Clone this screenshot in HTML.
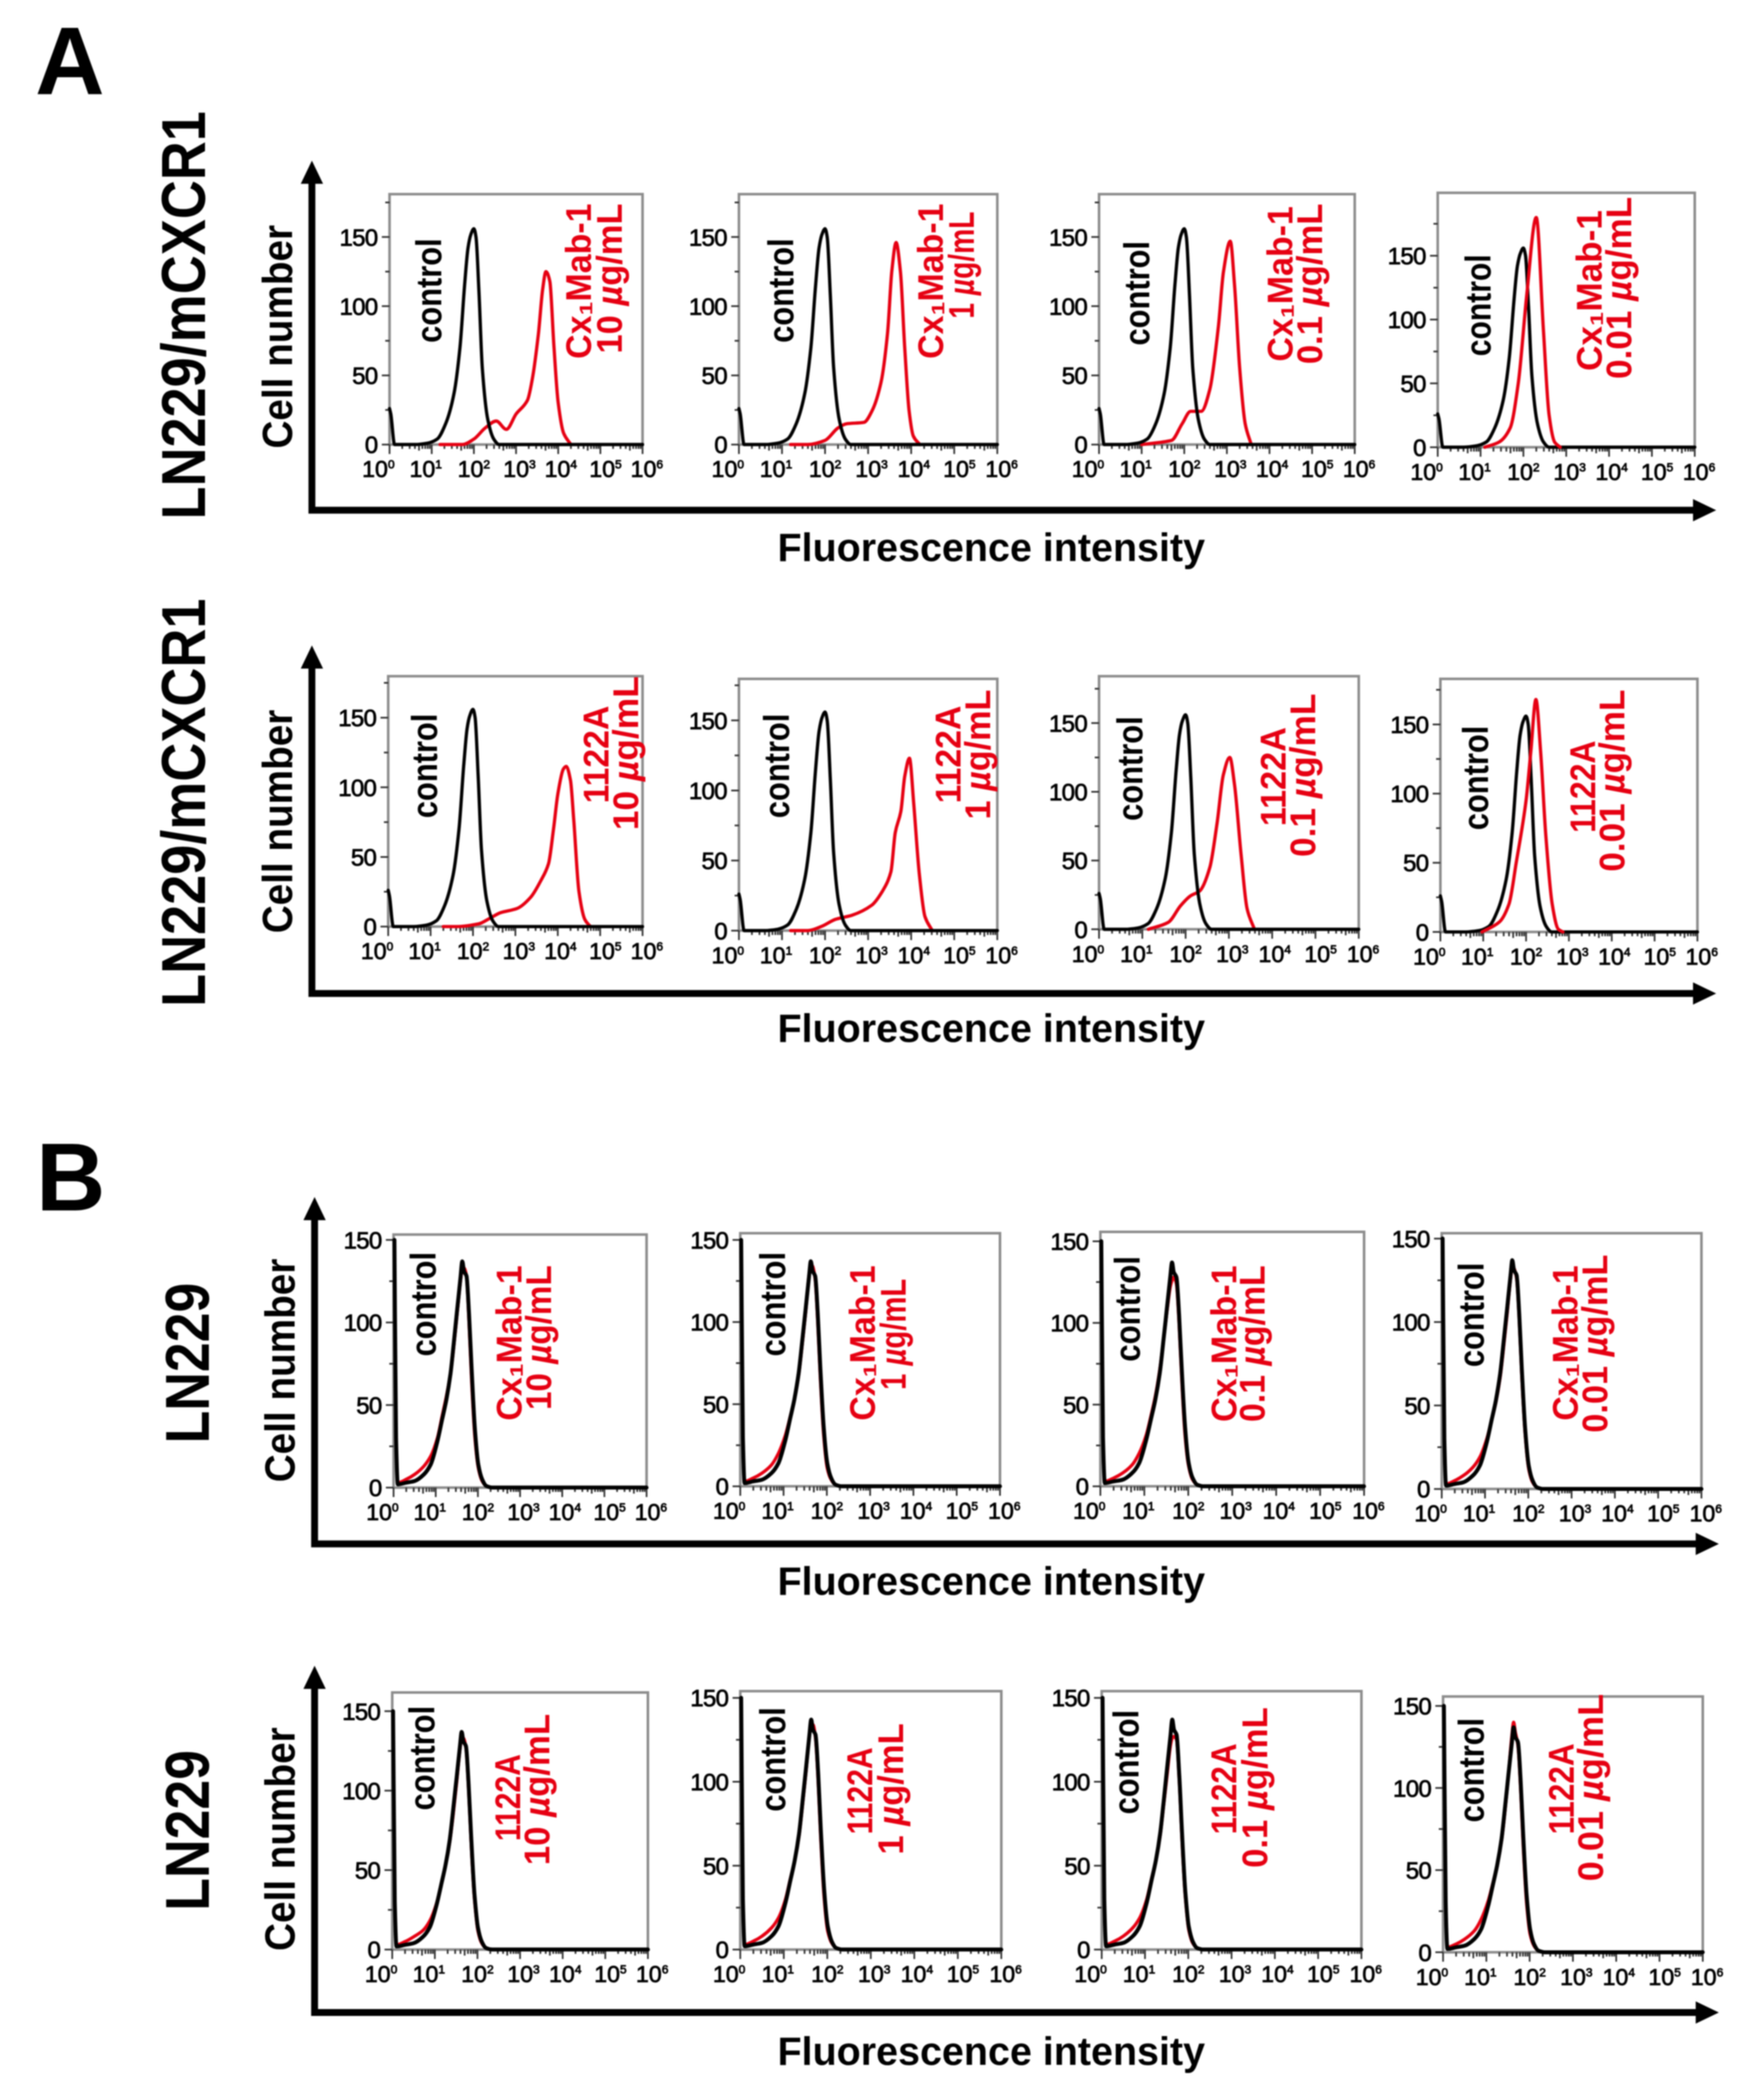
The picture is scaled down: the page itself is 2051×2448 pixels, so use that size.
<!DOCTYPE html>
<html>
<head>
<meta charset="utf-8">
<title>Flow cytometry histograms</title>
<style>
html,body{margin:0;padding:0;background:#fff;}
svg{display:block;font-family:"Liberation Sans",Arial,sans-serif;}
#root{filter:blur(0.8px);}
</style>
</head>
<body>
<svg id="figure" width="2051" height="2448" viewBox="0 0 2051 2448" xmlns="http://www.w3.org/2000/svg">
<rect width="2051" height="2448" fill="#fff"/>
<g id="root"></g>
</svg>
<script>
// ---- tick labels ----
const decadeTicks = [0,1,2,3,4,5,6];
const countTicks = [0,50,100,150];
const minorCountTicks = [25,75,125,175];

// ---- control histograms ----
const controlADecades = [0,0.03,0.12,0.6,0.9,1.13,1.33,1.53,1.67,1.78,1.86,1.93,2.0,2.05,2.12,2.2,2.33,2.47,2.6,6];
const controlACounts  = [26,22,0,0,1,4,15,37,70,115,142,152,156,150,110,55,18,4,0,0];
const controlBDecades = [0.02,0.06,0.1,0.3,0.5,0.72,0.88,1.04,1.15,1.25,1.35,1.43,1.51,1.59,1.63,1.67,1.73,1.79,1.85,1.93,2.01,2.1,2.2,2.35,6];
const controlBCounts  = [150,30,2,3,4,8,14,28,41,53,69,88,108,128,137,131,128,105,72,35,14,5,1,0,0];

// ---- LN229/mCXCR1 red histograms ----
const cxA10Decades = [1.2,1.73,2.0,2.27,2.53,2.77,3.0,3.27,3.4,3.53,3.63,3.71,3.8,3.9,4.0,4.13,4.3];
const cxA10Counts  = [0,0,4,12,17,11,22,32,50,80,112,125,118,70,30,8,0];
const cxA1Decades  = [1.2,1.6,2.0,2.3,2.5,2.9,3.1,3.3,3.45,3.55,3.65,3.75,3.85,3.95,4.05,4.2];
const cxA1Counts   = [0,0,3,12,15,16,25,45,80,125,146,125,70,25,6,0];
const cxA01Decades = [1.0,1.7,1.95,2.15,2.4,2.6,2.8,2.92,3.08,3.18,3.3,3.43,3.57];
const cxA01Counts  = [0,3,15,24,24,40,85,125,147,115,55,15,0];
const cxA001Decades= [1.1,1.43,1.69,1.88,2.08,2.3,2.47,2.6,2.73,2.86];
const cxA001Counts = [0,4,15,50,120,180,90,25,4,0];
const abA10Decades = [1.3,1.63,2.14,2.4,2.65,3.04,3.36,3.6,3.78,3.9,4.0,4.13,4.2,4.3,4.38,4.5,4.64,4.77];
const abA10Counts  = [0,0,2,6,10,13,21,33,45,70,95,113,115,105,75,25,5,0];
const abA1Decades  = [1.2,1.6,1.92,2.24,2.63,3.08,3.33,3.53,3.63,3.76,3.85,3.96,4.06,4.19,4.32,4.49];
const abA1Counts   = [0,0,3,8,11,18,28,42,70,85,110,123,90,40,10,0];
const abA01Decades = [1.14,1.6,1.88,2.1,2.33,2.56,2.73,2.87,3.02,3.13,3.28,3.42,3.59];
const abA01Counts  = [0,5,17,24,28,45,78,112,125,105,55,15,0];
const abA001Decades= [0.97,1.37,1.6,1.77,2.0,2.11,2.23,2.34,2.46,2.61,2.75,2.86];
const abA001Counts = [0,7,20,50,95,130,168,130,70,20,2,0];

// ---- LN229 red histograms (same decade grid as controlBDecades) ----
const cxB10Counts  = [148,28,3,5,8,13,19,30,43,55,69,86,106,126,132,133,128,100,65,30,12,4,1,0,0];
const cxB1Counts   = [148,28,3,5,8,13,20,31,42,53,68,86,106,129,135,134,126,100,66,30,11,4,1,0,0];
const cxB01Counts  = [148,28,3,5,8,13,20,31,43,55,71,88,106,122,126,128,124,100,66,30,12,4,1,0,0];
const cxB001Counts = [148,28,3,5,8,13,19,30,41,52,67,85,105,126,133,132,126,102,68,32,12,4,1,0,0];
const abB10Counts  = [148,28,3,5,8,12,18,29,41,53,68,85,105,126,133,133,127,102,68,32,12,4,1,0,0];
const abB1Counts   = [148,28,3,5,8,13,19,30,42,53,68,86,106,128,134,134,126,100,66,30,11,4,1,0,0];
const abB01Counts  = [148,28,3,5,8,13,19,30,42,53,68,86,104,122,126,127,125,102,68,32,12,4,1,0,0];
const abB001Counts = [148,28,3,5,8,13,20,31,42,53,68,86,108,132,140,134,126,100,66,30,11,4,1,0,0];

// ---- layout (in display units, multiplied by k) ----
const k = 2051/1314;
const labelNudge = -1.5;
const xLabelShift = [-13,-7,0,4,3,6,5];
const panelLayouts = [
 {id:'a1-1',l:291,r:480,t:145,b:332,y150:177,cx:331,cy:[178,256],l1:[443,152,268],l2:[466,152,264],ab:'Cx₁Mab-1',conc:'10',dec:cxA10Decades,red:cxA10Counts,g:'A'},
 {id:'a1-2',l:552,r:745,t:145,b:332,y150:177,cx:594,cy:[178,256],l1:[706,152,268],l2:[729,158,238],ab:'Cx₁Mab-1',conc:'1',dec:cxA1Decades,red:cxA1Counts,g:'A'},
 {id:'a1-3',l:821,r:1012,t:145,b:332,y150:177,cx:860,cy:[180,258],l1:[967,154,270],l2:[989,152,272],ab:'Cx₁Mab-1',conc:'0.1',dec:cxA01Decades,red:cxA01Counts,g:'A'},
 {id:'a1-4',l:1074,r:1266,t:144,b:334,y150:191,cx:1115,cy:[190,266],l1:[1198,157,277],l2:[1220,147,283],ab:'Cx₁Mab-1',conc:'0.01',dec:cxA001Decades,red:cxA001Counts,g:'A',top:true},
 {id:'a2-1',l:290,r:480,t:505,b:692,y150:536,cx:328,cy:[533,611],l1:[456,527,600],l2:[478,505,620],ab:'1122A',conc:'10',dec:abA10Decades,red:abA10Counts,g:'A'},
 {id:'a2-2',l:552,r:745,t:507,b:695,y150:538,cx:591,cy:[533,611],l1:[719,527,600],l2:[741,515,612],ab:'1122A',conc:'1',dec:abA1Decades,red:abA1Counts,g:'A'},
 {id:'a2-3',l:821,r:1015,t:505,b:694,y150:540,cx:855,cy:[535,613],l1:[962,543,617],l2:[984,518,640],ab:'1122A',conc:'0.1',dec:abA01Decades,red:abA01Counts,g:'A'},
 {id:'a2-4',l:1076,r:1268,t:507,b:696,y150:541,cx:1113,cy:[542,620],l1:[1193,553,622],l2:[1215,515,651],ab:'1122A',conc:'0.01',dec:abA001Decades,red:abA001Counts,g:'A',top:true},
 {id:'b1-1',l:294,r:483,t:922,b:1111,y150:926,cx:327,cy:[935,1013],l1:[391,945,1061],l2:[413,945,1053],ab:'Cx₁Mab-1',conc:'10',dec:controlBDecades,red:cxB10Counts,g:'B'},
 {id:'b1-2',l:553,r:747,t:921,b:1110,y150:926,cx:588,cy:[935,1013],l1:[655,945,1061],l2:[678,955,1038],ab:'Cx₁Mab-1',conc:'1',dec:controlBDecades,red:cxB1Counts,g:'B'},
 {id:'b1-3',l:822,r:1019,t:920,b:1110,y150:927,cx:853,cy:[938,1017],l1:[925,945,1062],l2:[946,945,1062],ab:'Cx₁Mab-1',conc:'0.1',dec:controlBDecades,red:cxB01Counts,g:'B'},
 {id:'b1-4',l:1077,r:1271,t:921,b:1112,y150:925,cx:1110,cy:[943,1021],l1:[1180,945,1061],l2:[1202,937,1070],ab:'Cx₁Mab-1',conc:'0.01',dec:controlBDecades,red:cxB001Counts,g:'B'},
 {id:'b2-1',l:293,r:484,t:1264,b:1456,y150:1278,cx:326,cy:[1274,1352],l1:[390,1310,1375],l2:[412,1280,1393],ab:'1122A',conc:'10',dec:controlBDecades,red:abB10Counts,g:'B'},
 {id:'b2-2',l:553,r:748,t:1263,b:1456,y150:1268,cx:588,cy:[1275,1353],l1:[653,1305,1370],l2:[676,1287,1385],ab:'1122A',conc:'1',dec:controlBDecades,red:abB1Counts,g:'B'},
 {id:'b2-3',l:823,r:1017,t:1263,b:1456,y150:1268,cx:852,cy:[1277,1355],l1:[925,1302,1370],l2:[948,1275,1395],ab:'1122A',conc:'0.1',dec:controlBDecades,red:abB01Counts,g:'B'},
 {id:'b2-4',l:1078,r:1272,t:1267,b:1458,y150:1274,cx:1110,cy:[1283,1361],l1:[1177,1302,1370],l2:[1199,1265,1405],ab:'1122A',conc:'0.01',dec:controlBDecades,red:abB001Counts,g:'B'}
];
const rowLayouts = [
 {id:'a1',ax:233,tip:120,corner:381,xtip:1282,titleY:419,cell:[194,218,168,335],side:[153,83,388],sideText:'LN229/mCXCR1'},
 {id:'a2',ax:233,tip:482,corner:742,xtip:1282,titleY:778,cell:[194,218,530,697],side:[153,447,752],sideText:'LN229/mCXCR1'},
 {id:'b1',ax:235,tip:894,corner:1153,xtip:1284,titleY:1191,cell:[196,220,940,1107],side:[156,958,1078],sideText:'LN229'},
 {id:'b2',ax:235,tip:1244,corner:1503,xtip:1284,titleY:1542,cell:[196,220,1290,1457],side:[156,1307,1427],sideText:'LN229'}
];

const NS = 'http://www.w3.org/2000/svg';
const root = document.getElementById('root');
function make(tag, parent, attrs){
  const el = document.createElementNS(NS, tag);
  for (const key in attrs) el.setAttribute(key, attrs[key]);
  parent.appendChild(el);
  return el;
}
function rotatedText(parent, baseX, yTop, yBottom, size, fill, parts){
  const len = (yBottom - yTop)*k;
  const x = baseX*k, y = yBottom*k;
  const t = make('text', parent, {transform:'translate('+x+','+y+') rotate(-90)', 'font-size':size, 'font-weight':'bold', fill:fill, textLength:len, lengthAdjust:'spacingAndGlyphs'});
  parts.forEach(function(p){
    const s = document.createElementNS(NS,'tspan');
    s.textContent = p.text;
    if (p.italic) s.setAttribute('font-style','italic');
    t.appendChild(s);
  });
  return t;
}

// monotone cubic path through screen points (no overshoot between samples)
function monotonePath(px, py){
  const n = px.length, m = new Array(n).fill(0), s = [];
  for (let i=0;i<n-1;i++) s[i] = (py[i+1]-py[i])/Math.max(px[i+1]-px[i],0.001);
  for (let i=1;i<n-1;i++) m[i] = s[i-1]*s[i] <= 0 ? 0 : 2*s[i-1]*s[i]/(s[i-1]+s[i]);
  m[0] = s[0]; m[n-1] = s[n-2];
  let d = 'M'+px[0].toFixed(1)+' '+py[0].toFixed(1);
  for (let i=0;i<n-1;i++){
    const h = (px[i+1]-px[i])/3;
    d += 'C'+(px[i]+h).toFixed(1)+' '+(py[i]+m[i]*h).toFixed(1)+' '+(px[i+1]-h).toFixed(1)+' '+(py[i+1]-m[i+1]*h).toFixed(1)+' '+px[i+1].toFixed(1)+' '+py[i+1].toFixed(1);
  }
  return d;
}

// panel letters
const letterA = make('text', root, {x:41, y:110, 'font-size':112, 'font-weight':'bold', fill:'#000'});


letterA.textContent = 'A';
const letterB = make('text', root, {x:42, y:1411, 'font-size':112, 'font-weight':'bold', fill:'#000'});


letterB.textContent = 'B';

// row scaffolding: big arrows and titles
rowLayouts.forEach(function(row){
  const g = make('g', root, {});
  
  
  const ax=row.ax*k, tip=row.tip*k, cor=row.corner*k, xt=row.xtip*k;
  const yArrow = make('path', g, {d:'M'+ax+' '+(tip+20)+'V'+cor+'H'+(xt-20), fill:'none', stroke:'#000', 'stroke-width':8});
  
  
  const yHead = make('path', g, {d:'M'+ax+' '+tip+'L'+(ax+13)+' '+(tip+27)+'H'+(ax-13)+'Z', fill:'#000'});
  
  
  const xHead = make('path', g, {d:'M'+xt+' '+cor+'L'+(xt-27)+' '+(cor-13)+'V'+(cor+13)+'Z', fill:'#000'});
  
  
  const title = make('text', g, {x:740.5*k, y:row.titleY*k, 'font-size':46, 'font-weight':'bold', fill:'#000', 'text-anchor':'middle'});
  
  
  title.textContent = 'Fluorescence intensity';
  const cell = rotatedText(g, row.cell[1], row.cell[2], row.cell[3], 49, '#000', [{text:'Cell number'}]);
  
  
  const side = rotatedText(g, row.side[0], row.side[1], row.side[2], 72, '#000', [{text:row.sideText}]);
  
  
});

function drawCurve(parent, decades, counts, xScale, yScale, color, width, name){
  const px = decades.map(xScale);
  const py = counts.map(yScale);
  const line = make('path', parent, {d:monotonePath(px,py), fill:'none', stroke:color, 'stroke-width':width, 'stroke-linejoin':'round', 'stroke-linecap':'round'});
  
  
}

panelLayouts.forEach(function(p){
  const left=p.l*k, right=p.r*k, top=p.t*k, base=p.b*k, y150=p.y150*k;
  const xScale = function(d){ return left + d*(right-left)/6; };
  const yScale = function(c){ return base - c*(base-y150)/150; };
  const g = make('g', root, {});
  
  

  const frame = make('rect', g, {x:left, y:top, width:right-left, height:base-top, fill:'#fff', stroke:'#8c8c8c', 'stroke-width':3});
  
  

  // x axis ticks
  let dx = '';
  decadeTicks.forEach(function(d){
    dx += 'M'+xScale(d)+' '+base+'v11';
    if (d < 6) [2,3,4,5,6,7,8,9].forEach(function(m){
      dx += 'M'+xScale(d+Math.log10(m))+' '+base+'v'+(m===5?7:5);
    });
  });
  const xTicks = make('path', g, {d:dx, stroke:'#333', 'stroke-width':2, fill:'none'});
  
  

  // y axis ticks
  let dy = '';
  countTicks.forEach(function(c){ dy += 'M'+left+' '+yScale(c)+'h-9'; });
  minorCountTicks.forEach(function(c){ const y=yScale(c); if (y>top) dy += 'M'+left+' '+y+'h-5'; });
  const yTicks = make('path', g, {d:dy, stroke:'#333', 'stroke-width':2, fill:'none'});
  
  

  // x tick labels
  decadeTicks.forEach(function(d,i){
    const t = make('text', g, {x:xScale(d)+xLabelShift[i], y:base+38, 'font-size':27, fill:'#000', stroke:'#000', 'stroke-width':0.8, 'text-anchor':'middle'});
    
    
    t.appendChild(document.createTextNode('10'));
    const sup = document.createElementNS(NS,'tspan');
    sup.setAttribute('font-size','14');
    sup.setAttribute('dy','-10');
    sup.textContent = String(d);
    t.appendChild(sup);
  });

  // y tick labels
  countTicks.forEach(function(c){
    const t = make('text', g, {x:left-14, y:yScale(c)+10, 'font-size':28, fill:'#000', stroke:'#000', 'stroke-width':0.8, 'text-anchor':'end', 'letter-spacing':-0.8});
    
    
    t.textContent = String(c);
  });

  // series
  const ctrlDec = p.g==='A' ? controlADecades : controlBDecades;
  const ctrlCnt = p.g==='A' ? controlACounts : controlBCounts;
  const ctrlW = p.g==='A' ? 3.8 : 4.6;
  if (p.top){
    drawCurve(g, ctrlDec, ctrlCnt, xScale, yScale, '#000', ctrlW, 'control-histogram');
    drawCurve(g, p.dec, p.red, xScale, yScale, '#e60012', 3.8, 'antibody-histogram');
  } else {
    drawCurve(g, p.dec, p.red, xScale, yScale, '#e60012', 3.8, 'antibody-histogram');
    drawCurve(g, ctrlDec, ctrlCnt, xScale, yScale, '#000', ctrlW, 'control-histogram');
  }

  // annotations
  const ctl = rotatedText(g, p.cx+labelNudge, p.cy[0], p.cy[1], 42, '#000', [{text:'control'}]);
  
  
  const ab = rotatedText(g, p.l1[0]+labelNudge, p.l1[1], p.l1[2], 42, '#e60012', [{text:p.ab}]);
  
  
  const conc = rotatedText(g, p.l2[0]+labelNudge, p.l2[1], p.l2[2], 42, '#e60012', [{text:p.conc+' '},{text:'µ',italic:true},{text:'g/mL'}]);
  
  
});
</script>
</body>
</html>
